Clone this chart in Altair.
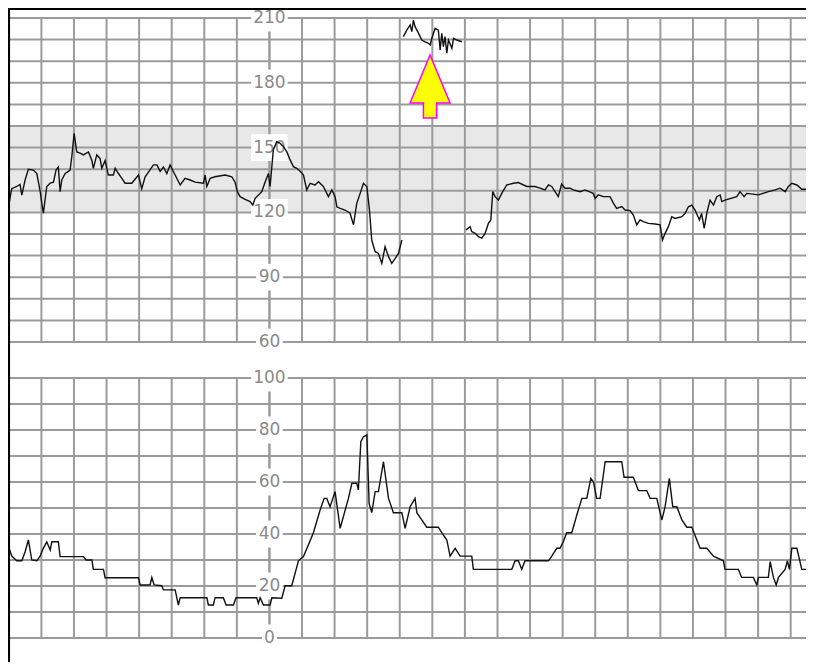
import altair as alt
import pandas as pd

# ---------------- data (time in seconds) ----------------
fhr_a_time = [0.2, 1.8, 4.9, 6.9, 8.0, 10.0, 12.0, 15.1, 17.2, 19.2, 20.3, 21.2, 23.3, 25.4, 27.4, 29.0,
              30.4, 31.5, 32.5, 34.6, 36.6, 37.6, 38.7, 40.1, 41.7, 43.8, 45.8, 48.9, 51.0, 51.9, 54.0,
              56.0, 57.1, 59.1, 61.1, 64.2, 65.3, 67.3, 69.4, 71.4, 75.5, 79.6, 81.6, 83.7, 88.8, 90.9,
              92.9, 94.9, 97.0, 99.0, 103.1, 105.2, 108.2, 111.3, 114.4, 119.5, 120.5, 121.6, 123.6,
              126.6, 132.8, 136.9, 138.9, 140.3, 142.0, 145.1, 148.1, 149.8, 151.2, 155.3, 157.3, 159.4,
              160.4, 162.4, 164.5, 166.6, 168.6, 170.7, 172.7, 174.7, 176.8, 178.8, 180.9, 182.9, 185.0,
              188.0, 190.1, 193.1, 196.2, 198.3, 200.3, 201.4, 203.4, 206.4, 209.5, 211.6, 213.6, 215.7,
              217.7, 219.8, 221.4, 222.8, 224.9, 226.9, 229.0, 231.0, 233.1, 235.1, 237.2, 239.2, 241.3]
fhr_a_bpm = [124.4, 131, 132, 133, 128, 135, 140, 139.6, 138, 130, 124, 119.7, 132, 133.6, 134, 139.6,
             141, 129.6, 135, 138, 139, 139.6, 146, 156.6, 148, 147.4, 146.6, 148, 144, 140.4, 146.6,
             145, 140.4, 144, 137.3, 137.3, 140.4, 138, 135.8, 133.5, 133.5, 137.3, 131, 136.5, 142, 142,
             139, 141, 138, 142, 135.8, 132.7, 135.8, 135, 134, 133.5, 137.3, 132, 135.8,
             136.5, 137.3, 136.5, 134, 129.6, 127.3, 126, 125, 123.4, 126.5, 129.6, 134, 138,
             132, 149, 152.7, 152, 150.4, 148, 144.3, 141.2, 140.4, 139, 137.3, 130.4, 133.5,
             132.7, 134.2, 132, 127.3, 130.4, 127.3, 122.6, 121.9, 121.1, 119.6, 114.2, 124.2, 128.8,
             133.5, 131.9, 121.1, 107.2, 101.8, 101, 96.4, 104.1, 99.5, 96.4, 98.7, 101, 107.2]

fhr_b_time = [242.2, 244.3, 246.4, 247.4, 248.4, 249.4, 251.5, 253.5, 255.6, 257.6, 258.7, 259.7,
              261.7, 263.7, 264.8, 265.8, 266.8, 267.8, 268.9, 269.9, 272.0, 273.0, 275.0, 278.1]
fhr_b_bpm = [201.4, 204.4, 206.8, 203.7, 209, 206, 203, 199.8, 199, 198.3, 197.5, 200.6,
             205.2, 204.4, 195.2, 202.9, 196.7, 201.4, 193.7, 199.8, 196, 200.6, 199.8, 199]

fhr_c_time = [280.7, 283.2, 284.2, 286.3, 288.3, 290.4, 292.4, 294.4, 295.9, 297.1, 298.5, 300.6,
              302.6, 305.7, 309.8, 312.8, 318.0, 323.0, 326.1, 329.1, 331.3, 333.3, 337.3, 339.4,
              341.4, 344.5, 346.6, 350.7, 353.7, 358.8, 359.9, 361.9, 365.0, 369.1, 371.2, 373.2,
              376.3, 378.3, 381.4, 383.4, 385.5, 387.5, 389.6, 392.6, 396.8, 399.8, 401.3, 402.9,
              404.9, 407.0, 409.0, 413.2, 415.2, 417.2, 419.3, 421.3, 424.0, 425.3, 426.9, 428.5,
              430.5, 432.6, 434.6, 436.7, 437.7, 439.7, 446.9, 448.9, 451.4, 453.0, 460.2, 466.3,
              470.4, 473.5, 476.6, 478.6, 480.7, 483.8, 486.8, 489.9, 494.0]
fhr_c_bpm = [111.9, 113.4, 111.1, 110.3, 108.8, 108.1, 110.3, 114.9, 116.5, 129.6, 127.3, 125.7,
             128.8, 132.7, 133.5, 133.8, 132, 132, 131.2, 130.4, 132.7, 132, 127.3, 133.1,
             131.2, 131.2, 130.4, 129.6, 130.4, 128.8, 126.5, 128.1, 127.3, 127.3, 124.2, 121.9,
             122.7, 121.1, 120.8, 118.8, 114.2, 116.5, 115.7, 114.9, 114.6, 114.2, 107.2, 110.3,
             113.4, 118, 117.2, 118, 119.6, 122.6, 123.4, 121.1, 116.5, 119.6, 112.6, 119.6,
             125.7, 123.4, 127.3, 128.1, 125, 125.7, 127.3, 129.6, 127.3, 128.8, 128.1, 129.6,
             130.4, 131.2, 129.6, 132, 133.5, 132.7, 130.7, 130.7, 130.7]

uc_time = [0.2, 1.8, 4.9, 8.0, 10.0, 12.0, 14.1, 17.2, 19.2, 21.2, 23.3, 25.4, 26.4, 30.4, 31.5, 45.8,
           47.5, 51.0, 51.9, 58.1, 59.1, 79.6, 80.6, 86.7, 87.8, 89.2, 93.9, 94.9, 102.1, 104.1, 105.2,
           121.6, 122.5, 125.6, 126.6, 131.7, 133.4, 137.9, 139.5, 152.2, 153.2, 154.3, 156.3, 160.4,
           161.5, 167.6, 169.6, 173.7, 177.8, 180.9, 187.0, 191.1, 193.6, 195.2, 197.2, 200.3, 203.4,
           208.5, 210.6, 213.6, 214.6, 216.1, 217.7, 219.8, 221.2, 222.8, 224.9, 226.9, 230.0, 233.1,
           236.1, 241.3, 243.3, 246.4, 249.4, 250.5, 253.5, 256.6, 263.7, 265.8, 268.9, 270.9, 274.0,
           277.1, 284.2, 285.2, 308.8, 310.8, 312.8, 314.9, 316.9, 331.3, 333.3, 336.4, 338.4, 340.4,
           342.5, 345.6, 348.7, 351.8, 354.8, 357.3, 358.9, 360.9, 363.0, 366.1, 376.3, 377.7, 383.4,
           386.5, 391.6, 393.7, 397.8, 400.9, 402.9, 405.5, 407.6, 410.1, 413.2, 416.2, 419.3, 424.4,
           428.5, 432.6, 438.7, 439.7, 447.9, 449.9, 457.1, 459.2, 460.2, 466.3, 467.4, 469.4, 471.1,
           472.5, 476.6, 478.0, 479.2, 480.7, 483.8, 486.8, 489.9, 492.3, 494.3]
uc_value = [34.5, 31.5, 29.7, 29.7, 33.2, 37.7, 30, 29.7, 31.5, 34.5, 37, 33.8, 37, 37, 31.3, 31.3,
            30, 30, 26.4, 26.4, 23.2, 23.2, 20.4, 20.4, 23.3, 20.4, 20.1, 18.5, 18.5, 12.7, 15.5,
            15.5, 12.7, 12.7, 15.5, 15.5, 12.7, 12.7, 15.5, 15.5, 13.3, 15.5, 12.7, 12.7,
            15.5, 15.3, 20.1, 20.1, 29.7, 31.3, 40.5, 49.2, 53.7, 53.7, 50.5, 56.3, 42.2,
            53.7, 59.5, 59.5, 56.9, 75.5, 77.4, 78.1, 51.8, 48.2, 56.3, 56.3, 67.8, 53.7,
            48.2, 48.2, 42.2, 50.5, 53.7, 48.2, 45.4, 42.6, 42.6, 40.5, 37.7, 31.5, 34.5,
            31.5, 31.5, 26.4, 26.4, 29.7, 29.7, 26.4, 29.7, 29.7, 31.5, 34.5, 34.5, 37,
            40.5, 40.5, 47.3, 53.7, 53.7, 61.4, 60.1, 53.7, 53.7, 67.8, 67.8, 61.8, 61.8,
            56.7, 56.7, 53.7, 53.7, 45.4, 50.5, 61.4, 50.5, 50.5, 45.4, 42.6, 42.6, 34.5,
            34.5, 31.5, 29.7, 26.4, 26.4, 23.3, 23.3, 20.4, 23.3, 23.3, 29.4, 23.3, 20.4,
            23.3, 26.4, 29.7, 26.4, 34.5, 34.5, 26.4, 26.4, 23.3, 23.3]

fhr_gridlines = list(range(60, 211, 10))
uc_gridlines = list(range(0, 101, 10))
time_gridlines = list(range(0, 481, 20))
fhr_tick_labels = [60, 90, 120, 150, 180, 210]
uc_tick_labels = [0, 20, 40, 60, 80, 100]
axis_time = 160
normal_band = [120, 160]
arrow_time = 258.6
arrow_bpm = 178.3

# ---------------- layout / styles ----------------
W, H = 798, 654
X_DOMAIN = [-0.5, 489.4]
FHR_DOMAIN = [-88.15, 214.63]
UC_DOMAIN = [-9.23, 242.31]
GRID = "#9b9b9b"
LABEL = "#8a8a8a"
TRACE = "#111111"

xs = alt.Scale(domain=X_DOMAIN, nice=False, zero=False)
ys_f = alt.Scale(domain=FHR_DOMAIN, nice=False, zero=False)
ys_u = alt.Scale(domain=UC_DOMAIN, nice=False, zero=False)

X = lambda f: alt.X(f, scale=xs, axis=None)
YF = lambda f: alt.Y(f, scale=ys_f, axis=None)
YU = lambda f: alt.Y(f, scale=ys_u, axis=None)

half_w = {1: 4.6, 2: 8.2, 3: 11.2}


def label_frame(values, hh, cap):
    labs = [str(v) for v in values]
    return pd.DataFrame({
        "t": [axis_time] * len(values),
        "v": values,
        "label": labs,
        "x0": [axis_time - half_w[len(s)] for s in labs],
        "x1": [axis_time + half_w[len(s)] for s in labs],
        "y0": [v - hh for v in values],
        "y1": [min(v + hh, cap) for v in values],
    })


fhr_df = pd.concat([
    pd.DataFrame({"t": fhr_a_time, "v": fhr_a_bpm, "seg": "a"}),
    pd.DataFrame({"t": fhr_b_time, "v": fhr_b_bpm, "seg": "b"}),
    pd.DataFrame({"t": fhr_c_time, "v": fhr_c_bpm, "seg": "c"}),
])
uc_df = pd.DataFrame({"t": uc_time, "v": uc_value})

# ---------------- top panel (FHR) ----------------
band = alt.Chart(pd.DataFrame({"x0": [X_DOMAIN[0]], "x1": [X_DOMAIN[1]],
                               "y0": [normal_band[0]], "y1": [normal_band[1]]})).mark_rect(
    color="#e8e8e8").encode(x=X("x0:Q"), x2="x1:Q", y=YF("y0:Q"), y2="y1:Q")
hgrid_f = alt.Chart(pd.DataFrame({"v": fhr_gridlines})).mark_rule(
    color=GRID, strokeWidth=2).encode(y=YF("v:Q"))
vgrid_f = alt.Chart(pd.DataFrame({"t": time_gridlines, "y0": 60, "y1": 210})).mark_rule(
    color=GRID, strokeWidth=2).encode(x=X("t:Q"), y=YF("y0:Q"), y2="y1:Q")
axis_f = alt.Chart(pd.DataFrame({"t": [axis_time], "y0": [60], "y1": [210]})).mark_rule(
    color=GRID, strokeWidth=2).encode(x=X("t:Q"), y=YF("y0:Q"), y2="y1:Q")
lab_f_df = label_frame(fhr_tick_labels, 6.2, 213.6)
box_f = alt.Chart(lab_f_df).mark_rect(color="white").encode(
    x=X("x0:Q"), x2="x1:Q", y=YF("y0:Q"), y2="y1:Q")
text_f = alt.Chart(lab_f_df).mark_text(font="DejaVu Sans", fontSize=17, color=LABEL,
                                       align="center", baseline="middle").encode(
    x=X("t:Q"), y=YF("v:Q"), text="label:N")
line_f = alt.Chart(fhr_df).mark_line(color=TRACE, strokeWidth=1.4, clip=True).encode(
    x=X("t:Q"), y=YF("v:Q"), detail="seg:N")
ARROW = "M0,-1 L0.635,0.524 L0.21,0.524 L0.21,1 L-0.21,1 L-0.21,0.524 L-0.635,0.524 Z"
arrow = alt.Chart(pd.DataFrame({"t": [arrow_time], "v": [arrow_bpm]})).mark_point(
    shape=ARROW, size=3969, filled=True, fill="#ffff00", stroke="#ff00ff",
    strokeWidth=1.5, opacity=1).encode(x=X("t:Q"), y=YF("v:Q"))
top_border = alt.Chart(pd.DataFrame({"v": [214.2]})).mark_rule(
    color="black", strokeWidth=2).encode(y=YF("v:Q"))

top = alt.layer(band, hgrid_f, vgrid_f, axis_f, box_f, text_f, line_f, arrow, top_border)

# ---------------- bottom panel (UC) ----------------
hgrid_u = alt.Chart(pd.DataFrame({"v": uc_gridlines})).mark_rule(
    color=GRID, strokeWidth=2).encode(y=YU("v:Q"))
vgrid_u = alt.Chart(pd.DataFrame({"t": time_gridlines, "y0": 0, "y1": 100})).mark_rule(
    color=GRID, strokeWidth=2).encode(x=X("t:Q"), y=YU("y0:Q"), y2="y1:Q")
axis_u = alt.Chart(pd.DataFrame({"t": [axis_time], "y0": [0], "y1": [100]})).mark_rule(
    color=GRID, strokeWidth=2).encode(x=X("t:Q"), y=YU("y0:Q"), y2="y1:Q")
lab_u_df = label_frame(uc_tick_labels, 5.2, 1000)
box_u = alt.Chart(lab_u_df).mark_rect(color="white").encode(
    x=X("x0:Q"), x2="x1:Q", y=YU("y0:Q"), y2="y1:Q")
text_u = alt.Chart(lab_u_df).mark_text(font="DejaVu Sans", fontSize=17, color=LABEL,
                                       align="center", baseline="middle").encode(
    x=X("t:Q"), y=YU("v:Q"), text="label:N")
line_u = alt.Chart(uc_df).mark_line(color=TRACE, strokeWidth=1.4, clip=True).encode(
    x=X("t:Q"), y=YU("v:Q"))

bottom = alt.layer(hgrid_u, vgrid_u, axis_u, box_u, text_u, line_u)

left_border = alt.Chart(pd.DataFrame({"t": [0]})).mark_rule(
    color="black", strokeWidth=2.5).encode(x=X("t:Q"))

chart = alt.layer(top, bottom, left_border).resolve_scale(y="independent").properties(
    width=W, height=H, padding=0, autosize=alt.AutoSizeParams(type="none")
).configure_view(stroke=None)

chart.save("out.html", embed_options={"renderer": "svg", "actions": False})
